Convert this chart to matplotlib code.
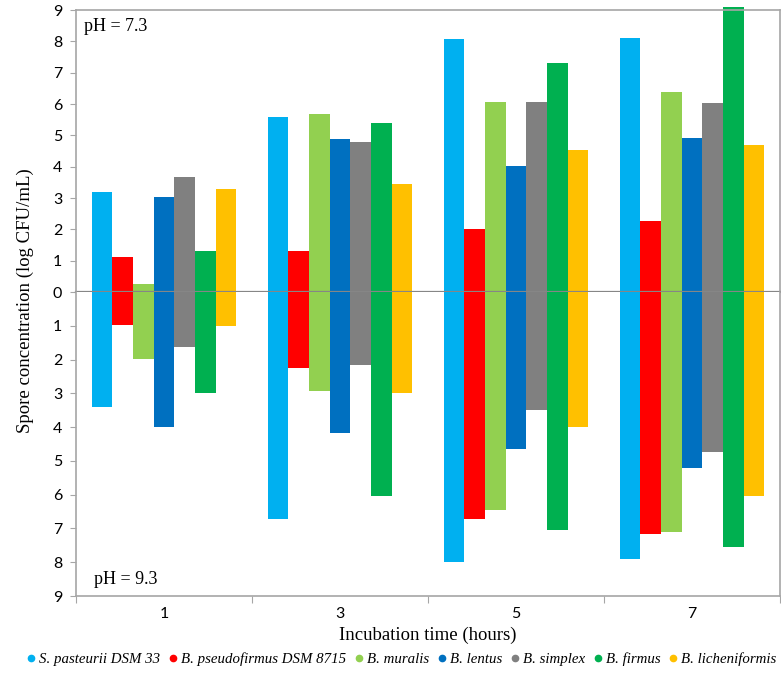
import matplotlib.pyplot as plt
import numpy as np
from matplotlib.lines import Line2D

# Sporekonsentrasjon (log CFU/mL) ved pH 7.3 (opp) og pH 9.3 (ned)
hours = ['1', '3', '5', '7']
strains = ['S. pasteurii DSM 33', 'B. pseudofirmus DSM 8715', 'B. muralis',
           'B. lentus', 'B. simplex', 'B. firmus', 'B. licheniformis']
colors = ['#00B0F0', '#FF0000', '#92D050', '#0070C0', '#808080', '#00B050', '#FFC000']

ph73 = [[3.20, 5.59, 8.07, 8.10],
        [1.12, 1.31, 2.02, 2.26],
        [0.26, 5.67, 6.05, 6.39],
        [3.02, 4.87, 4.02, 4.93],
        [3.67, 4.80, 6.05, 6.03],
        [1.31, 5.39, 7.30, 9.09],
        [3.30, 3.45, 4.53, 4.68]]
ph93 = [[3.39, 6.71, 7.99, 7.89],
        [0.97, 2.26, 6.71, 7.15],
        [1.99, 2.92, 6.44, 7.10],
        [4.01, 4.16, 4.65, 5.21],
        [1.62, 2.17, 3.49, 4.75],
        [3.00, 6.05, 7.05, 7.54],
        [1.02, 3.00, 4.01, 6.05]]

serif = 'Liberation Serif'
sans = 'Lato'
framec = '#a6a6a6'

fig = plt.figure(figsize=(7.81, 6.9), dpi=100)
ax1 = fig.add_axes([0.0973, 0.5768, 0.9014, 0.4087])
ax2 = fig.add_axes([0.0973, 0.1362, 0.9014, 0.4406])

x = np.arange(len(hours))
w = 1 / 8.5
for i in range(len(strains)):
    ax1.bar(x + (i - 3) * w, ph73[i], w, color=colors[i], clip_on=False, zorder=2)
    ax2.bar(x + (i - 3) * w, ph93[i], w, color=colors[i], clip_on=False, zorder=2)

for ax in (ax1, ax2):
    ax.set_xlim(-0.5, 3.5)
    for s in ax.spines.values():
        s.set_color(framec)
        s.set_linewidth(1.2)
    ax.tick_params(axis='y', direction='out', length=4, color=framec,
                   labelsize=11.5, pad=6)

ax1.set_ylim(0, 9)
ax1.set_yticks(range(0, 10))
ax1.spines['bottom'].set_color('#868686')
ax1.spines['bottom'].set_linewidth(1.6)
ax1.spines['bottom'].set_zorder(3)
ax1.set_xticks([])

ax2.set_ylim(9, 0)
ax2.set_yticks(range(1, 10))
ax2.spines['top'].set_visible(False)
ax2.set_xticks(np.arange(-0.5, 4, 1))
ax2.set_xticklabels([])
ax2.set_xticks(x, minor=True)
ax2.set_xticklabels(hours, minor=True)
ax2.tick_params(axis='x', which='major', direction='out', length=5, color=framec)
ax2.tick_params(axis='x', which='minor', length=0, labelsize=11.5, pad=8)

for ax in (ax1, ax2):
    for lab in ax.get_yticklabels() + ax.get_xticklabels(minor=True):
        lab.set_family(sans)

ax1.text(0.012, 0.94, 'pH = 7.3', transform=ax1.transAxes, family=serif,
         fontsize=13, va='center')
ax2.text(0.025, 0.055, 'pH = 9.3', transform=ax2.transAxes, family=serif,
         fontsize=13, va='center')

ax2.set_xlabel('Incubation time (hours)', family=serif, fontsize=13.5, labelpad=4)
fig.text(0.033, 0.565, 'Spore concentration (log CFU/mL)', family=serif,
         fontsize=13.5, rotation=90, ha='center', va='center')

handles = [Line2D([], [], ls='', marker='o', ms=4.5, color=c) for c in colors]
leg = fig.legend(handles, strains, loc='center', bbox_to_anchor=(0.512, 0.045),
                 ncol=7, frameon=False, handletextpad=0.05, columnspacing=0.35,
                 handlelength=1.0, borderpad=0, borderaxespad=0,
                 prop={'family': serif, 'style': 'italic', 'size': 10.7})

fig.savefig('out.png', dpi=100)
